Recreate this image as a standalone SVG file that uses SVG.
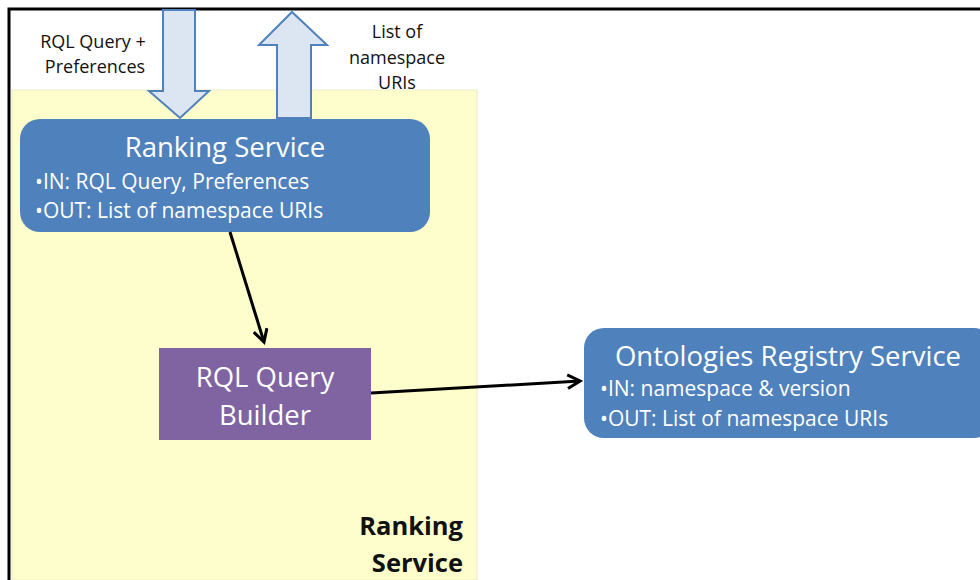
<svg xmlns="http://www.w3.org/2000/svg" width="980" height="580" viewBox="0 0 980 580">
<style>
text{font-family:"Open Sans","Liberation Sans",sans-serif;}
.w{fill:#fff}
.k{fill:#111}
.big{font-size:27.5px}
.mid{font-size:21px}
.sm{font-size:18px}
.bold{font-weight:bold;font-size:25.5px}
.blk{fill:#4F81BD}
.fat{fill:#DCE6F2;stroke:#4F81BD;stroke-width:2}
.conn{stroke:#000;stroke-width:3;fill:none}
</style>
<defs>
<marker id="ah" viewBox="0 0 12 12" refX="10" refY="6" markerWidth="5.5" markerHeight="5.5" orient="auto" markerUnits="strokeWidth">
<path d="M1,1 L10,6 L1,11" fill="none" stroke="#000" stroke-width="2.2"/>
</marker>
</defs>
<rect width="980" height="580" fill="#fff"/>
<g id="panel">
<rect x="12" y="90" width="465" height="490" fill="#FEFDCC" stroke="#EDEBC8" stroke-width="1"/>
<text class="k bold" x="463" y="535" text-anchor="end">Ranking</text>
<text class="k bold" x="463" y="572" text-anchor="end">Service</text>
</g>
<path d="M9,580 V9 H980" fill="none" stroke="#000" stroke-width="3"/>
<g id="input-arrow">
<path class="fat" d="M163,10 H195 V91 H209 L180,118 L149,91 H163 Z"/>
<text class="k sm" x="93" y="48" text-anchor="middle">RQL Query +</text>
<text class="k sm" x="95" y="73" text-anchor="middle">Preferences</text>
</g>
<g id="output-arrow">
<path class="fat" d="M277,118 V45 H259 L292,12 L327,45 H311 V118 Z"/>
<text class="k sm" x="397" y="38" text-anchor="middle">List of</text>
<text class="k sm" x="397" y="64" text-anchor="middle">namespace</text>
<text class="k sm" x="397" y="89" text-anchor="middle">URIs</text>
</g>
<g id="ranking-service">
<rect class="blk" x="20" y="119" width="410" height="113" rx="20"/>
<text class="w big" x="225" y="157" text-anchor="middle">Ranking Service</text>
<text class="w mid" x="35" y="189">•IN: RQL Query, Preferences</text>
<text class="w mid" x="35" y="218">•OUT: List of namespace URIs</text>
</g>
<g id="rql-query-builder">
<rect x="159" y="348" width="212" height="92" fill="#8064A2"/>
<text class="w big" x="265" y="387" text-anchor="middle">RQL Query</text>
<text class="w big" x="265" y="425" text-anchor="middle">Builder</text>
</g>
<g id="ontologies-registry-service">
<rect class="blk" x="584" y="328" width="410" height="110" rx="20"/>
<text class="w big" x="788" y="366" text-anchor="middle">Ontologies Registry Service</text>
<text class="w mid" x="600" y="396">•IN: namespace &amp; version</text>
<text class="w mid" x="600" y="426">•OUT: List of namespace URIs</text>
</g>
<g id="connectors">
<line class="conn" x1="230" y1="232" x2="264" y2="342" marker-end="url(#ah)"/>
<line class="conn" x1="371" y1="393" x2="580" y2="381" marker-end="url(#ah)"/>
</g>
</svg>
